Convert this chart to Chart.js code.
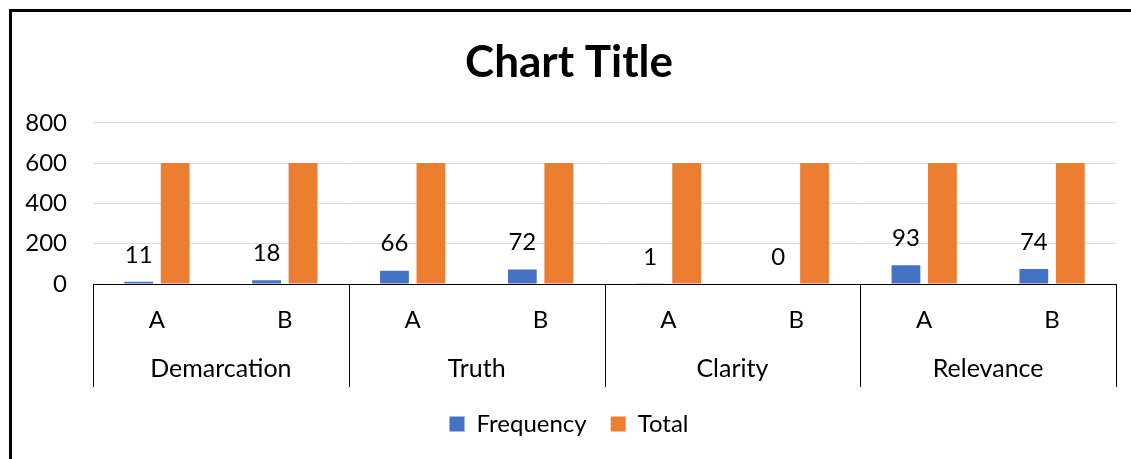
<!DOCTYPE html>
<html>
<head>
<meta charset="utf-8">
<script src="https://cdn.jsdelivr.net/npm/chart.js"></script>
<style>
  html, body { margin: 0; padding: 0; background: #fff; overflow: hidden; }
  #wrap { position: relative; width: 1131px; height: 459px; }
  #frame { position: absolute; left: 9px; top: 9px; width: 1200px; height: 500px;
           border-left: 3px solid #000; border-top: 3px solid #000; pointer-events: none; }
</style>
</head>
<body>
<div id="wrap">
  <canvas id="chart" width="1131" height="459"></canvas>
  <div id="frame"></div>
</div>
<script>
const groups = ['Demarcation', 'Truth', 'Clarity', 'Relevance'];
const subLabels = ['A', 'B', 'A', 'B', 'A', 'B', 'A', 'B'];
const frequency = [11, 18, 66, 72, 1, 0, 93, 74];
const total = [600, 600, 600, 600, 600, 600, 600, 600];

const FONT = 'Lato, "Open Sans", sans-serif';
Chart.defaults.font.family = FONT;
Chart.defaults.color = '#000';

// value labels above the Frequency bars
const barLabels = {
  id: 'barLabels',
  afterDatasetsDraw(chart) {
    const ctx = chart.ctx;
    const meta = chart.getDatasetMeta(0);
    ctx.save();
    ctx.font = '24px ' + FONT;
    ctx.fillStyle = '#000';
    ctx.textAlign = 'center';
    ctx.textBaseline = 'middle';
    meta.data.forEach((bar, i) => {
      ctx.fillText(String(frequency[i]), bar.x, bar.y - 27);
    });
    ctx.restore();
  }
};

// second level of the category axis: group names and divider lines
const groupAxis = {
  id: 'groupAxis',
  afterDraw(chart) {
    const x = chart.scales.x;
    const ctx = chart.ctx;
    const top = x.top;
    const bottom = top + 103;
    const edges = [x.left];
    for (let g = 1; g < groups.length; g++) {
      edges.push((x.getPixelForValue(g * 2 - 1) + x.getPixelForValue(g * 2)) / 2);
    }
    edges.push(x.right);
    ctx.save();
    ctx.strokeStyle = '#000';
    ctx.lineWidth = 1;
    ctx.beginPath();
    edges.forEach(e => {
      const px = Math.round(e) + 0.5;
      ctx.moveTo(px, top);
      ctx.lineTo(px, bottom);
    });
    ctx.stroke();
    ctx.font = '25px ' + FONT;
    ctx.fillStyle = '#000';
    ctx.textAlign = 'center';
    ctx.textBaseline = 'middle';
    groups.forEach((g, i) => ctx.fillText(g, (edges[i] + edges[i + 1]) / 2, top + 85));
    ctx.restore();
  }
};

new Chart(document.getElementById('chart'), {
  type: 'bar',
  data: {
    labels: subLabels,
    datasets: [
      { label: 'Frequency', data: frequency, backgroundColor: '#4472C4' },
      { label: 'Total', data: total, backgroundColor: '#ED7D31' }
    ]
  },
  options: {
    responsive: false,
    animation: false,
    categoryPercentage: 0.57,
    barPercentage: 0.79,
    layout: { padding: { left: 22, right: 15, top: 0, bottom: 13 } },
    scales: {
      x: {
        grid: { display: false },
        border: { display: true, color: '#000', width: 1 },
        ticks: { font: { size: 24 }, color: '#000', padding: 14, maxRotation: 0, autoSkip: false },
        afterFit(s) { s.height = 104; }
      },
      y: {
        min: 0,
        max: 800,
        ticks: { stepSize: 200, font: { size: 24 }, color: '#000', padding: 26 },
        grid: { color: '#D9D9D9', lineWidth: 1, drawTicks: false },
        border: { display: false },
        afterFit(s) { s.width = 71; }
      }
    },
    plugins: {
      title: {
        display: true,
        text: 'Chart Title',
        color: '#000',
        font: { size: 44, weight: 'bold' },
        padding: { top: 36, bottom: 34 }
      },
      legend: {
        position: 'bottom',
        labels: { boxWidth: 15, boxHeight: 15, padding: 24, color: '#000', font: { size: 24 } }
      },
      tooltip: { enabled: false }
    }
  },
  plugins: [barLabels, groupAxis]
});
</script>
</body>
</html>
